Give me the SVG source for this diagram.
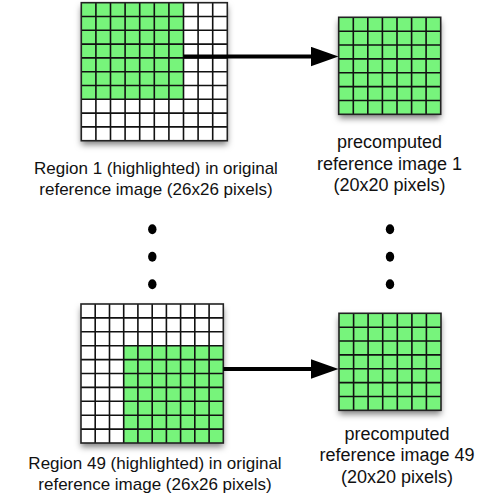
<svg xmlns="http://www.w3.org/2000/svg" width="487" height="504" viewBox="0 0 487 504">
<style>
  .green{fill:#77F47B;}
  .white{fill:#FFFFFF;}
  .grid{fill:none;stroke:#111;stroke-width:1.6;}
  .border{fill:none;stroke:#222;stroke-width:1.6;}
  .lbl{font-family:"Liberation Sans",Arial,Helvetica,sans-serif;fill:#111;text-anchor:middle;}
  .l17{font-size:17px;}
  .l18{font-size:18px;}
  .conn{stroke:#000;stroke-width:4;fill:none;}
  .dot{fill:#000;}
</style>
<defs>
  <filter id="shadow" x="-20%" y="-20%" width="140%" height="140%">
    <feDropShadow dx="0" dy="4" stdDeviation="3" flood-color="#000" flood-opacity="0.5"/>
  </filter>
  <marker id="arrow" markerUnits="userSpaceOnUse" markerWidth="28" markerHeight="20" refX="0" refY="9.7" orient="auto">
    <path d="M0,0 L27.5,9.7 L0,19.4 z" fill="#000"/>
  </marker>
</defs>

<g id="region1">
  <rect class="white" x="81.3" y="2.7" width="146" height="138" filter="url(#shadow)"/>
  <rect class="green" x="81.3" y="2.7" width="102.2" height="96.6"/>
  <path class="grid" d="M95.9 2.7V140.7M110.5 2.7V140.7M125.1 2.7V140.7M139.7 2.7V140.7M154.3 2.7V140.7M168.9 2.7V140.7M183.5 2.7V140.7M198.1 2.7V140.7M212.7 2.7V140.7M81.3 16.5H227.3M81.3 30.3H227.3M81.3 44.1H227.3M81.3 57.9H227.3M81.3 71.7H227.3M81.3 85.5H227.3M81.3 99.3H227.3M81.3 113.1H227.3M81.3 126.9H227.3"/>
  <rect class="border" x="81.3" y="2.7" width="146" height="138"/>
  <text class="lbl l17" x="156" y="174">Region 1 (highlighted) in original</text>
  <text class="lbl l17" x="156" y="195">reference image (26x26 pixels)</text>
</g>

<g id="precomputed1">
  <rect class="green" x="338.7" y="17.3" width="102" height="97" filter="url(#shadow)"/>
  <path class="grid" d="M353.3 17.3V114.3M367.8 17.3V114.3M382.4 17.3V114.3M397 17.3V114.3M411.6 17.3V114.3M426.1 17.3V114.3M338.7 31.2H440.7M338.7 45H440.7M338.7 58.9H440.7M338.7 72.7H440.7M338.7 86.6H440.7M338.7 100.5H440.7"/>
  <rect class="border" x="338.7" y="17.3" width="102" height="97"/>
  <text class="lbl l18" x="389.5" y="148">precomputed</text>
  <text class="lbl l18" x="389.5" y="170">reference image 1</text>
  <text class="lbl l18" x="389.5" y="191">(20x20 pixels)</text>
</g>

<g id="region49">
  <rect class="white" x="81" y="304" width="142.3" height="139" filter="url(#shadow)"/>
  <rect class="green" x="123.7" y="345.7" width="99.6" height="97.3"/>
  <path class="grid" d="M95.2 304V443M109.5 304V443M123.7 304V443M137.9 304V443M152.2 304V443M166.4 304V443M180.6 304V443M194.8 304V443M209.1 304V443M81 317.9H223.3M81 331.8H223.3M81 345.7H223.3M81 359.6H223.3M81 373.5H223.3M81 387.4H223.3M81 401.3H223.3M81 415.2H223.3M81 429.1H223.3"/>
  <rect class="border" x="81" y="304" width="142.3" height="139"/>
  <text class="lbl l17" x="155" y="469">Region 49 (highlighted) in original</text>
  <text class="lbl l17" x="155" y="490">reference image (26x26 pixels)</text>
</g>

<g id="precomputed49">
  <rect class="green" x="339" y="313.3" width="102" height="97" filter="url(#shadow)"/>
  <path class="grid" d="M353.6 313.3V410.3M368.1 313.3V410.3M382.7 313.3V410.3M397.3 313.3V410.3M411.9 313.3V410.3M426.4 313.3V410.3M339 327.2H441M339 341H441M339 354.9H441M339 368.7H441M339 382.6H441M339 396.5H441"/>
  <rect class="border" x="339" y="313.3" width="102" height="97"/>
  <text class="lbl l18" x="397" y="440">precomputed</text>
  <text class="lbl l18" x="397" y="461">reference image 49</text>
  <text class="lbl l18" x="397" y="483">(20x20 pixels)</text>
</g>

<g id="ellipsis-left">
  <ellipse class="dot" cx="152.3" cy="229.3" rx="4.2" ry="5"/>
  <ellipse class="dot" cx="152.3" cy="256.7" rx="4.2" ry="5"/>
  <ellipse class="dot" cx="152.3" cy="284.3" rx="4.2" ry="5"/>
</g>
<g id="ellipsis-right">
  <ellipse class="dot" cx="390" cy="229.3" rx="4.2" ry="5"/>
  <ellipse class="dot" cx="390" cy="256.7" rx="4.2" ry="5"/>
  <ellipse class="dot" cx="390" cy="284.3" rx="4.2" ry="5"/>
</g>

<g id="connectors">
  <path class="conn" d="M183.5 56.5H311" marker-end="url(#arrow)"/>
  <path class="conn" d="M223.3 369H311" marker-end="url(#arrow)"/>
</g>
</svg>
